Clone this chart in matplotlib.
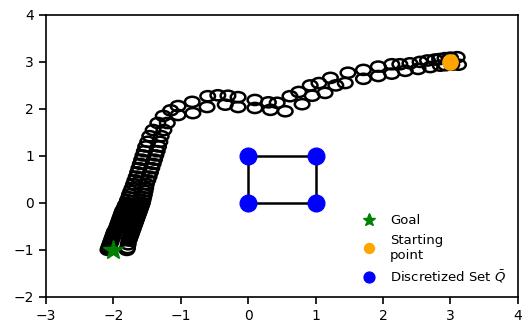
import matplotlib.pyplot as plt
from matplotlib.patches import Circle

# robot footprints along the trajectory (two circles per pose)
outer_x = [3.10, 3.00, 2.92, 2.84, 2.77, 2.66, 2.55, 2.40, 2.25, 2.13, 1.93, 1.71, 1.48, 1.22,
           1.05, 0.92, 0.75, 0.62, 0.43, 0.30, 0.10, -0.15, -0.30, -0.45, -0.60, -0.83, -1.04,
           -1.15, -1.26, -1.34, -1.41, -1.46, -1.49, -1.52, -1.54, -1.56, -1.58, -1.60, -1.62,
           -1.64, -1.66, -1.68, -1.70, -1.72, -1.74, -1.76, -1.77, -1.79, -1.80, -1.82, -1.83,
           -1.84, -1.86, -1.87, -1.88, -1.89, -1.90, -1.91, -1.92, -1.93, -1.94, -1.95, -1.96,
           -1.98, -1.99, -2.00, -2.01, -2.02, -2.03, -2.04, -2.05, -2.06, -2.07, -2.08]
outer_y = [3.10, 3.09, 3.08, 3.06, 3.05, 3.03, 3.00, 2.97, 2.95, 2.95, 2.90, 2.83, 2.77, 2.66,
           2.55, 2.50, 2.36, 2.27, 2.13, 2.14, 2.19, 2.25, 2.28, 2.29, 2.27, 2.15, 2.06,
           1.97, 1.85, 1.70, 1.55, 1.42, 1.30, 1.20, 1.10, 1.01, 0.92, 0.83, 0.74,
           0.65, 0.56, 0.48, 0.40, 0.32, 0.25, 0.18, 0.12, 0.06, 0.00, -0.04, -0.08,
           -0.12, -0.16, -0.20, -0.24, -0.28, -0.32, -0.36, -0.40, -0.44, -0.48, -0.52, -0.56,
           -0.60, -0.64, -0.68, -0.72, -0.76, -0.80, -0.84, -0.88, -0.92, -0.96, -1.00]

inner_x = [3.12, 3.02, 2.93, 2.85, 2.70, 2.52, 2.33, 2.13, 1.93, 1.71, 1.44, 1.30, 1.14, 0.95,
           0.80, 0.55, 0.33, 0.10, -0.15, -0.34, -0.61, -0.82, -1.04, -1.20, -1.25, -1.29,
           -1.31, -1.33, -1.35, -1.37, -1.39, -1.41, -1.43, -1.45, -1.47, -1.49, -1.51, -1.52,
           -1.53, -1.54, -1.55, -1.56, -1.57, -1.58, -1.59, -1.60, -1.61, -1.62, -1.63, -1.64,
           -1.65, -1.66, -1.67, -1.68, -1.69, -1.70, -1.71, -1.72, -1.73, -1.74, -1.75, -1.76,
           -1.77, -1.78, -1.79, -1.80]
inner_y = [2.94, 2.94, 2.93, 2.92, 2.89, 2.85, 2.81, 2.75, 2.70, 2.64, 2.55, 2.50, 2.34, 2.28,
           2.10, 1.95, 1.98, 2.02, 2.04, 2.09, 2.04, 1.91, 1.87, 1.70, 1.55, 1.42,
           1.30, 1.20, 1.10, 1.01, 0.92, 0.83, 0.74, 0.65, 0.56, 0.48, 0.40, 0.32,
           0.25, 0.18, 0.12, 0.06, 0.00, -0.04, -0.08, -0.12, -0.16, -0.20, -0.24, -0.28,
           -0.32, -0.36, -0.40, -0.44, -0.48, -0.52, -0.56, -0.60, -0.64, -0.68, -0.72, -0.76,
           -0.80, -0.88, -0.96, -1.00]

goal = (-2, -1)
start = (3, 3)
q_x = [0, 1, 1, 0, 0]
q_y = [0, 0, 1, 1, 0]

fig = plt.figure(figsize=(5.22, 3.31), dpi=100)
ax = fig.add_axes([0.088, 0.103, 0.904, 0.852])

for x, y in zip(outer_x + inner_x, outer_y + inner_y):
    ax.add_patch(Circle((x, y), 0.108, fill=False, ec='black', lw=1.8, zorder=2))

ax.plot(q_x, q_y, color='black', lw=1.8, zorder=3)
ax.plot(goal[0], goal[1], '*', color='green', ms=15, zorder=5, label='Goal')
ax.plot(start[0], start[1], 'o', color='orange', ms=11, zorder=5, label='Starting\npoint')
ax.plot(q_x[:4], q_y[:4], 'o', color='blue', ms=12, ls='none', zorder=4,
        label=r'Discretized Set $\bar{Q}$')

ax.set_xlim(-3, 4)
ax.set_ylim(-2, 4)
ax.tick_params(labelsize=10, width=1.2, length=5)
for s in ax.spines.values():
    s.set_linewidth(1.2)
ax.legend(loc='lower right', frameon=False, fontsize=9.5, markerscale=0.65,
          handletextpad=0.6, labelspacing=0.5, bbox_to_anchor=(1.0, 0.0))

plt.savefig('out.png', dpi=100)
